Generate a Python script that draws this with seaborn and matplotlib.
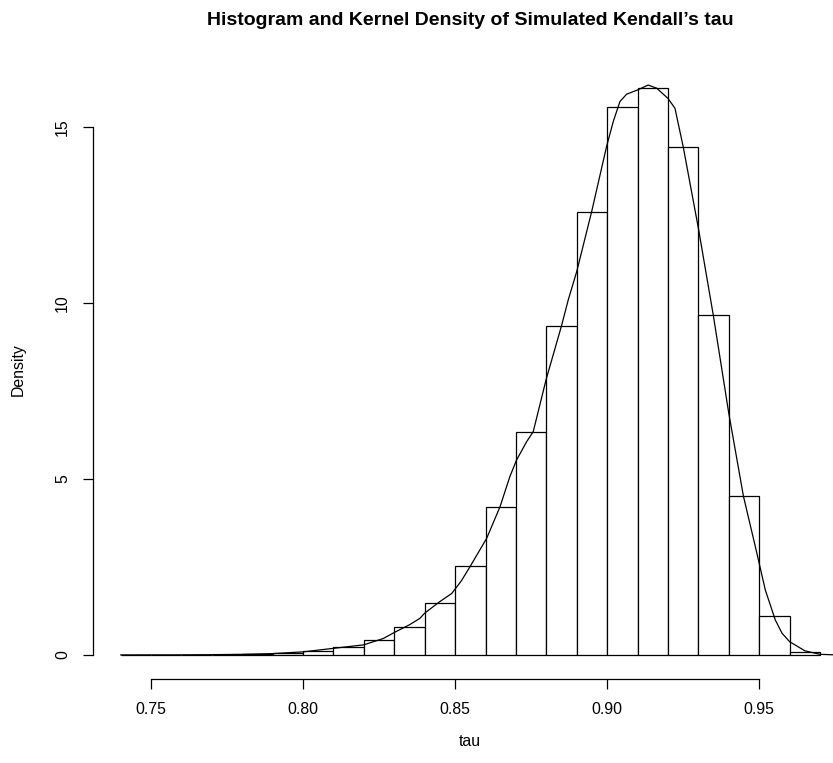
import numpy as np
import pandas as pd
import matplotlib
matplotlib.use("Agg")
import matplotlib.pyplot as plt
import seaborn as sns

# ---- data ----
bin_edges = [0.74, 0.75, 0.76, 0.77, 0.78, 0.79, 0.80, 0.81, 0.82, 0.83, 0.84, 0.85,
             0.86, 0.87, 0.88, 0.89, 0.90, 0.91, 0.92, 0.93, 0.94, 0.95, 0.96, 0.97]
bin_density = [0.003, 0.003, 0.006, 0.012, 0.025, 0.05, 0.12, 0.24, 0.43, 0.80, 1.47,
               2.54, 4.22, 6.35, 9.36, 12.60, 15.58, 16.11, 14.45, 9.66, 4.52, 1.11, 0.085]

kde_x = [0.7400, 0.7500, 0.7600, 0.7700, 0.7800, 0.7900, 0.8000, 0.8100, 0.8200, 0.8264,
         0.8300, 0.8350, 0.8384, 0.8400, 0.8450, 0.8489, 0.8520, 0.8549, 0.8604, 0.8648,
         0.8680, 0.8702, 0.8735, 0.8757, 0.8799, 0.8850, 0.8872, 0.8900, 0.8949, 0.8998,
         0.9020, 0.9042, 0.9064, 0.9100, 0.9135, 0.9163, 0.9200, 0.9223, 0.9250, 0.9300,
         0.9349, 0.9400, 0.9448, 0.9490, 0.9520, 0.9553, 0.9575, 0.9600, 0.9650, 0.9700,
         0.9750, 0.9800]
kde_y = [0.003, 0.004, 0.005, 0.010, 0.020, 0.040, 0.090, 0.190, 0.290, 0.470,
         0.640, 0.860, 1.040, 1.190, 1.520, 1.750, 2.100, 2.510, 3.320, 4.220,
         5.070, 5.540, 6.060, 6.350, 7.820, 9.360, 10.090, 10.900, 12.600, 14.450,
         15.160, 15.730, 15.940, 16.060, 16.200, 16.110, 15.820, 15.540, 14.450, 12.130,
         9.660, 6.870, 4.520, 2.980, 1.850, 0.995, 0.620, 0.380, 0.120, 0.020,
         0.004, 0.000]

x_ticks = [0.75, 0.80, 0.85, 0.90, 0.95]
y_ticks = [0, 5, 10, 15]
title = "Histogram and Kernel Density of Simulated Kendall\u2019s tau"
x_label = "tau"
y_label = "Density"

# ---- style ----
sns.set_style("white")
plt.rcParams["font.family"] = ["Liberation Sans", "DejaVu Sans"]
plt.rcParams["axes.linewidth"] = 0.9
plt.rcParams["text.color"] = "black"
plt.rcParams["axes.labelcolor"] = "black"
plt.rcParams["xtick.color"] = "black"
plt.rcParams["ytick.color"] = "black"
plt.rcParams["lines.solid_joinstyle"] = "round"

W, H = 833, 763
fig = plt.figure(figsize=(W / 100, H / 100), dpi=100)
# plot region in pixels (R-like)
L, R, T, B = 92.6, 848.0, 59.0, 679.3
ax = fig.add_axes([L / W, (H - B) / H, (R - L) / W, (B - T) / H])

centers = [(a + b) / 2 for a, b in zip(bin_edges[:-1], bin_edges[1:])]
hist_df = pd.DataFrame({"x": centers, "w": bin_density})
sns.histplot(data=hist_df, x="x", weights="w", bins=bin_edges, stat="count",
             fill=True, color="white", edgecolor="black", linewidth=0.9,
             alpha=1, ax=ax)

kde_df = pd.DataFrame({"x": kde_x, "y": kde_y})
sns.lineplot(data=kde_df, x="x", y="y", color="black", linewidth=0.9,
             sort=False, ax=ax)

ax.set_xlim(0.7308, 0.9792)
ax.set_ylim(-0.69, 16.94)

for s in ["top", "right"]:
    ax.spines[s].set_visible(False)
ax.spines["left"].set_bounds(0, 15)
ax.spines["bottom"].set_bounds(0.75, 0.95)
ax.spines["left"].set_color("black")
ax.spines["bottom"].set_color("black")

ax.set_xticks(x_ticks)
ax.set_xticklabels([f"{v:.2f}" for v in x_ticks])
ax.set_yticks(y_ticks)
ax.set_yticklabels([str(v) for v in y_ticks])
ax.tick_params(axis="both", which="major", direction="out", length=7.2,
               width=0.9, color="black", labelsize=11.4, labelcolor="black",
               bottom=True, left=True)
ax.tick_params(axis="x", pad=9)
ax.tick_params(axis="y", pad=9, labelrotation=90)
for lab in ax.get_yticklabels():
    lab.set_va("center")

ax.set_xlabel(x_label, fontsize=11.4)
ax.set_ylabel(y_label, fontsize=11.4)
ax.xaxis.set_label_coords(0.5, (B - 741) / (B - T))
ax.xaxis.label.set_va("center")
ax.yaxis.set_label_coords((18 - L) / (R - L), (B - 370) / (B - T))
ax.yaxis.label.set_va("center")
ax.yaxis.label.set_ha("center")

ax.set_title(title, fontsize=14, fontweight="bold", y=(B - 20) / (B - T),
             va="center", pad=0, color="black")

fig.savefig("out.png", dpi=100, facecolor="white")
